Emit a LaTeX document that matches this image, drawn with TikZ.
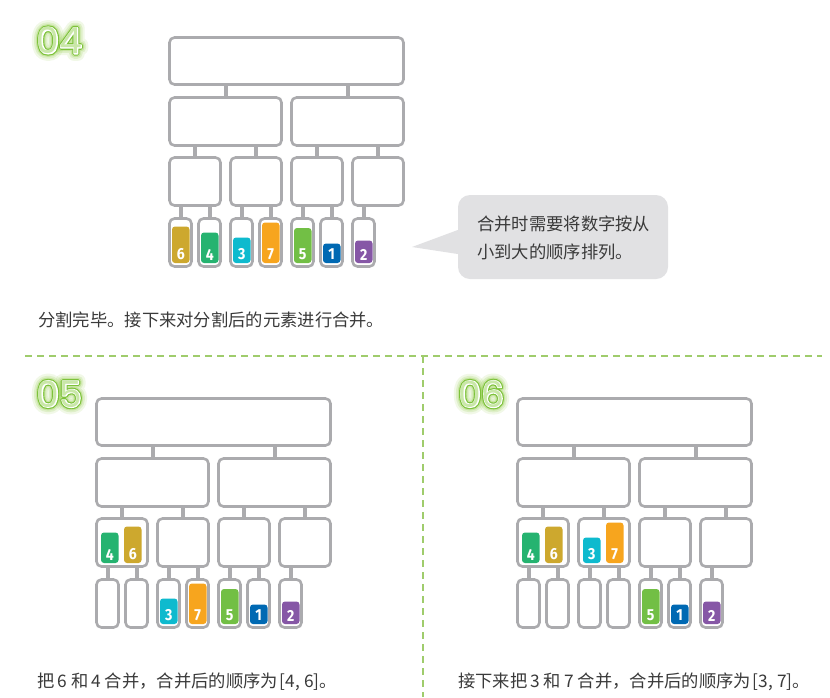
\documentclass[tikz,border=0pt]{standalone}
\usepackage{fontspec}
\newfontfamily\cjk{Noto Sans CJK SC}
\newfontfamily\numfont{Poppins}
\newfontfamily\numglowA{Poppins}[FakeBold=40]
\newfontfamily\numglowB{Poppins}[FakeBold=28]
\newfontfamily\numglowC{Poppins}[FakeBold=18]
\newfontfamily\numout{Poppins}[FakeBold=11]
\newfontfamily\numrim{Poppins}[FakeBold=4.5]
\newfontfamily\digfont{Fira Sans}[FakeStretch=0.88]
\definecolor{boxgray}{HTML}{ABABAE}
\definecolor{txtgray}{HTML}{3A3A3A}
\definecolor{callfill}{HTML}{E1E1E3}
\definecolor{dashgreen}{HTML}{9FCC6C}
\definecolor{glowgreen}{HTML}{8CCB3E}
\definecolor{outgreen}{HTML}{7DC23A}
\definecolor{ingreen}{HTML}{C9E7A8}
\definecolor{cSix}{HTML}{CDA82E}
\definecolor{cFour}{HTML}{25B370}
\definecolor{cThree}{HTML}{0EBACE}
\definecolor{cSeven}{HTML}{F7A51E}
\definecolor{cFive}{HTML}{72BF45}
\definecolor{cOne}{HTML}{0069B3}
\definecolor{cTwo}{HTML}{8657A6}
\tikzset{
  tbox/.style={draw=boxgray, line width=2.6pt, rounded corners=5pt, fill=white, inner sep=0pt},
  conn/.style={draw=boxgray, line width=4pt},
  digit/.style={text=white, font=\digfont\bfseries\fontsize{16}{16}\selectfont, inner sep=0pt},
  numlbl/.style={inner sep=0pt, line join=round},
  captxt/.style={text=txtgray, font=\cjk\fontsize{17.3}{20}\selectfont, inner sep=0pt, anchor=west},
  sep/.style={draw=dashgreen, line width=1.1pt, dash pattern=on 7pt off 5pt}
}
\newcommand\drawtree[3]{%
\begin{scope}[shift={(#2,#3)}]
  \node[tbox, minimum width=234pt, minimum height=47pt] (#1t) at (118.5,25) {};
  \node[tbox, minimum width=112pt, minimum height=48pt] (#1l) at (57.5,85.5) {};
  \node[tbox, minimum width=112pt, minimum height=48pt] (#1r) at (179.5,85.5) {};
  \node[tbox, minimum width=51pt, minimum height=48pt] (#1a) at (27,145.5) {};
  \node[tbox, minimum width=51pt, minimum height=48pt] (#1b) at (88,145.5) {};
  \node[tbox, minimum width=51pt, minimum height=48pt] (#1c) at (149,145.5) {};
  \node[tbox, minimum width=51pt, minimum height=48pt] (#1d) at (210,145.5) {};
  \node[tbox, minimum width=22pt, minimum height=48pt] (#1e1) at (12.5,206.5) {};
  \node[tbox, minimum width=22pt, minimum height=48pt] (#1e2) at (41.5,206.5) {};
  \node[tbox, minimum width=22pt, minimum height=48pt] (#1e3) at (73.5,206.5) {};
  \node[tbox, minimum width=22pt, minimum height=48pt] (#1e4) at (102.5,206.5) {};
  \node[tbox, minimum width=22pt, minimum height=48pt] (#1e5) at (134.5,206.5) {};
  \node[tbox, minimum width=22pt, minimum height=48pt] (#1e6) at (163.5,206.5) {};
  \node[tbox, minimum width=22pt, minimum height=48pt] (#1e7) at (195.5,206.5) {};
  \draw[conn] (#1l.north) -- (#1l.north |- #1t.south);
  \draw[conn] (#1r.north) -- (#1r.north |- #1t.south);
  \draw[conn] (#1a.north) -- (#1a.north |- #1l.south);
  \draw[conn] (#1b.north) -- (#1b.north |- #1l.south);
  \draw[conn] (#1c.north) -- (#1c.north |- #1r.south);
  \draw[conn] (#1d.north) -- (#1d.north |- #1r.south);
  \draw[conn] (#1e1.north) -- (#1e1.north |- #1a.south);
  \draw[conn] (#1e2.north) -- (#1e2.north |- #1a.south);
  \draw[conn] (#1e3.north) -- (#1e3.north |- #1b.south);
  \draw[conn] (#1e4.north) -- (#1e4.north |- #1b.south);
  \draw[conn] (#1e5.north) -- (#1e5.north |- #1c.south);
  \draw[conn] (#1e6.north) -- (#1e6.north |- #1c.south);
  \draw[conn] (#1e7.north) -- (#1e7.north |- #1d.south);
\end{scope}}
% x-left, bottom, height, colour, digit (inside a shifted scope)
\newcommand\valbar[5]{%
  \fill[#4, rounded corners=3pt] (#1,#2) rectangle ++(17.5,-#3);
  \node[digit] at ({#1+8.75},{#2-8.5}) {#5};}
% x, y, text, name
\newcommand\glowlabel[4]{%
  \node[numlbl, text=glowgreen, opacity=0.12, font=\numglowA\fontsize{36}{36}\selectfont] at (#1,#2) {#3};
  \node[numlbl, text=glowgreen, opacity=0.18, font=\numglowB\fontsize{36}{36}\selectfont] at (#1,#2) {#3};
  \node[numlbl, text=glowgreen, opacity=0.28, font=\numglowC\fontsize{36}{36}\selectfont] at (#1,#2) {#3};
  \node[numlbl, text=outgreen, font=\numout\fontsize{36}{36}\selectfont] at (#1,#2) {#3};
  \node[numlbl, text=white, font=\numrim\fontsize{36}{36}\selectfont] at (#1,#2) {#3};
  \node[numlbl, text=ingreen, font=\numfont\fontsize{36}{36}\selectfont] (#4) at (#1,#2) {#3};}
\begin{document}
\begin{tikzpicture}[x=1pt,y=-1pt]
\useasboundingbox (0,0) rectangle (830,697);
\fill[white] (0,0) rectangle (830,697);
% separators
\draw[sep] (25,356) -- (822,356);
\draw[sep] (423,356) -- (423,697);
% labels
\glowlabel{59.5}{40.5}{04}{lab4}
\glowlabel{59.5}{394}{05}{lab5}
\glowlabel{481.5}{394}{06}{lab6}
% panel 04
\drawtree{p}{168}{36}
\begin{scope}[shift={(168,36)}]
  \valbar{4}{227}{36.5}{cSix}{6}
  \valbar{33}{227}{30.5}{cFour}{4}
  \valbar{65}{227}{25.5}{cThree}{3}
  \valbar{94}{227}{40.5}{cSeven}{7}
  \valbar{126}{227}{35}{cFive}{5}
  \valbar{155}{227}{19.5}{cOne}{1}
  \valbar{187}{227}{22.5}{cTwo}{2}
\end{scope}
% panel 05
\drawtree{q}{95}{397}
\begin{scope}[shift={(95,397)}]
  \valbar{6}{166}{30.5}{cFour}{4}
  \valbar{29}{166}{36.5}{cSix}{6}
  \valbar{65}{227}{25.5}{cThree}{3}
  \valbar{94}{227}{40.5}{cSeven}{7}
  \valbar{126}{227}{35}{cFive}{5}
  \valbar{155}{227}{19.5}{cOne}{1}
  \valbar{187}{227}{22.5}{cTwo}{2}
\end{scope}
% panel 06
\drawtree{s}{516}{397}
\begin{scope}[shift={(516,397)}]
  \valbar{6}{166}{30.5}{cFour}{4}
  \valbar{29}{166}{36.5}{cSix}{6}
  \valbar{67}{166}{25.5}{cThree}{3}
  \valbar{90}{166}{40.5}{cSeven}{7}
  \valbar{126}{227}{35}{cFive}{5}
  \valbar{155}{227}{19.5}{cOne}{1}
  \valbar{187}{227}{22.5}{cTwo}{2}
\end{scope}
% callout
\node[fill=callfill, rounded corners=12pt, minimum width=210pt, minimum height=84pt, inner sep=0pt] (bubble) at (563,237) {};
\coordinate (tip) at (412,247);
\fill[callfill] (tip) -- (bubble.west |- 0,230) -- (bubble.west |- 0,254) -- cycle;
\node[captxt] (call1) at (477,224) {合并时需要将数字按从};
\node[captxt] (call2) at (477,252) {小到大的顺序排列。};
% captions
\node[captxt] (cap4) at (38,320) {分割完毕。接下来对分割后的元素进行合并。};
\node[captxt] (cap5) at (37,682) {把\hspace{3.5pt}6\hspace{3.5pt}和\hspace{3.5pt}4\hspace{3.5pt}合并，合并后的顺序为\hspace{2pt}[4, 6]。};
\node[captxt] (cap6) at (458,682) {接下来把\hspace{3.5pt}3\hspace{3.5pt}和\hspace{3.5pt}7\hspace{3.5pt}合并，合并后的顺序为\hspace{2pt}[3, 7]。};
\end{tikzpicture}
\end{document}
